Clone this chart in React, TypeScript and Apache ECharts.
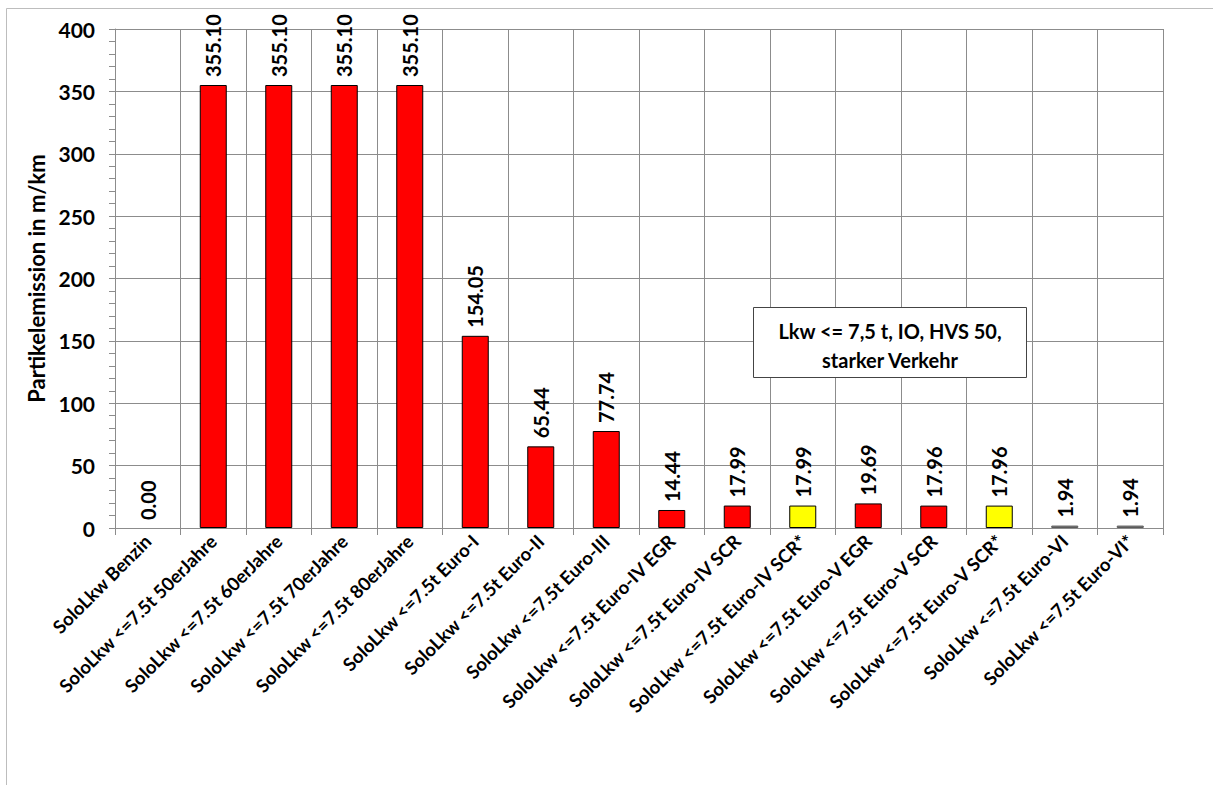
import React, { useEffect, useRef } from "react";
import * as echarts from "echarts";

const categories = [
  "SoloLkw Benzin",
  "SoloLkw <=7.5t 50erJahre",
  "SoloLkw <=7.5t 60erJahre",
  "SoloLkw <=7.5t 70erJahre",
  "SoloLkw <=7.5t 80erJahre",
  "SoloLkw <=7.5t Euro-I",
  "SoloLkw <=7.5t Euro-II",
  "SoloLkw <=7.5t Euro-III",
  "SoloLkw <=7.5t Euro-IV EGR",
  "SoloLkw <=7.5t Euro-IV SCR",
  "SoloLkw <=7.5t Euro-IV SCR*",
  "SoloLkw <=7.5t Euro-V EGR",
  "SoloLkw <=7.5t Euro-V SCR",
  "SoloLkw <=7.5t Euro-V SCR*",
  "SoloLkw <=7.5t Euro-VI",
  "SoloLkw <=7.5t Euro-VI*",
];
const values = [0.0, 355.1, 355.1, 355.1, 355.1, 154.05, 65.44, 77.74, 14.44, 17.99, 17.99, 19.69, 17.96, 17.96, 1.94, 1.94];
const barColors = [
  "#FF0000", "#FF0000", "#FF0000", "#FF0000", "#FF0000", "#FF0000", "#FF0000", "#FF0000",
  "#FF0000", "#FF0000", "#FFFF00", "#FF0000", "#FF0000", "#FFFF00", "#808080", "#808080",
];
const yTicks = { min: 0, max: 400, interval: 50 };
const yAxisName = "Partikelemission in m/km";
const boxLines = ["Lkw <= 7,5 t, IO, HVS 50,", "starker Verkehr"];

const FONT = "Lato, 'Open Sans', sans-serif";

export default function App() {
  const ref = useRef<HTMLDivElement>(null);
  useEffect(() => {
    if (!ref.current) return;
    const chart = echarts.init(ref.current, undefined, { renderer: "svg" });
    chart.setOption({
      animation: false,
      backgroundColor: "#ffffff",
      textStyle: { fontFamily: FONT },
      grid: { left: 115, top: 29, right: 50, bottom: 257, containLabel: false },
      xAxis: {
        type: "category",
        data: categories,
        boundaryGap: true,
        axisLine: { show: true, lineStyle: { color: "#8c8c8c", width: 1 } },
        axisTick: { show: true, length: 7, alignWithLabel: false, lineStyle: { color: "#8c8c8c" } },
        splitLine: { show: true, lineStyle: { color: "#8c8c8c", width: 1 } },
        axisLabel: {
          interval: 0,
          rotate: 45,
          margin: 10,
          color: "#000",
          fontFamily: FONT,
          fontWeight: "bold",
          fontSize: 18.5,
        },
      },
      yAxis: {
        type: "value",
        min: yTicks.min,
        max: yTicks.max,
        interval: yTicks.interval,
        name: yAxisName,
        nameLocation: "middle",
        nameGap: 63,
        nameRotate: 90,
        nameTextStyle: { color: "#000", fontFamily: FONT, fontWeight: "bold", fontSize: 22 },
        axisLine: { show: true, lineStyle: { color: "#8c8c8c", width: 1 } },
        axisTick: { show: true, length: 6, lineStyle: { color: "#8c8c8c" } },
        minorTick: { show: true, splitNumber: 5, length: 6, lineStyle: { color: "#8c8c8c" } },
        splitLine: { show: true, lineStyle: { color: "#8c8c8c", width: 1 } },
        axisLabel: {
          color: "#000",
          fontFamily: FONT,
          fontWeight: "bold",
          fontSize: 21,
          margin: 20,
        },
      },
      series: [
        {
          type: "bar",
          barWidth: 27,
          data: values.map((v, i) => ({
            value: v,
            itemStyle: {
              color: barColors[i],
              borderColor: i >= 14 ? "#5a5a5a" : "#000",
              borderWidth: v === 0 ? 0 : 1,
            },
          })),
          label: {
            show: true,
            position: "top",
            rotate: 90,
            align: "left",
            verticalAlign: "middle",
            distance: 8,
            color: "#000",
            fontFamily: FONT,
            fontWeight: "bold",
            fontSize: 20,
            formatter: (p: any) => Number(p.value).toFixed(2),
          },
        },
      ],
      graphic: [
        {
          type: "rect",
          z: 0,
          silent: true,
          shape: { x: 6.5, y: 8.5, width: 1300, height: 900 },
          style: { fill: "none", stroke: "#bdbdbd", lineWidth: 1 },
        },
        {
          type: "rect",
          z: 100,
          shape: { x: 753.5, y: 307.5, width: 273, height: 70 },
          style: { fill: "#ffffff", stroke: "#444", lineWidth: 1 },
        },
        {
          type: "text",
          z: 101,
          x: 890,
          y: 331,
          style: {
            text: boxLines[0],
            fill: "#000",
            font: "bold 20px " + FONT,
            align: "center",
            verticalAlign: "middle",
          },
        },
        {
          type: "text",
          z: 101,
          x: 890,
          y: 360,
          style: {
            text: boxLines[1],
            fill: "#000",
            font: "bold 20px " + FONT,
            align: "center",
            verticalAlign: "middle",
          },
        },
      ],
    });
    return () => chart.dispose();
  }, []);
  return (
    <div
      ref={ref}
      style={{ position: "absolute", left: 0, top: 0, width: 1213, height: 785, overflow: "hidden" }}
    />
  );
}
